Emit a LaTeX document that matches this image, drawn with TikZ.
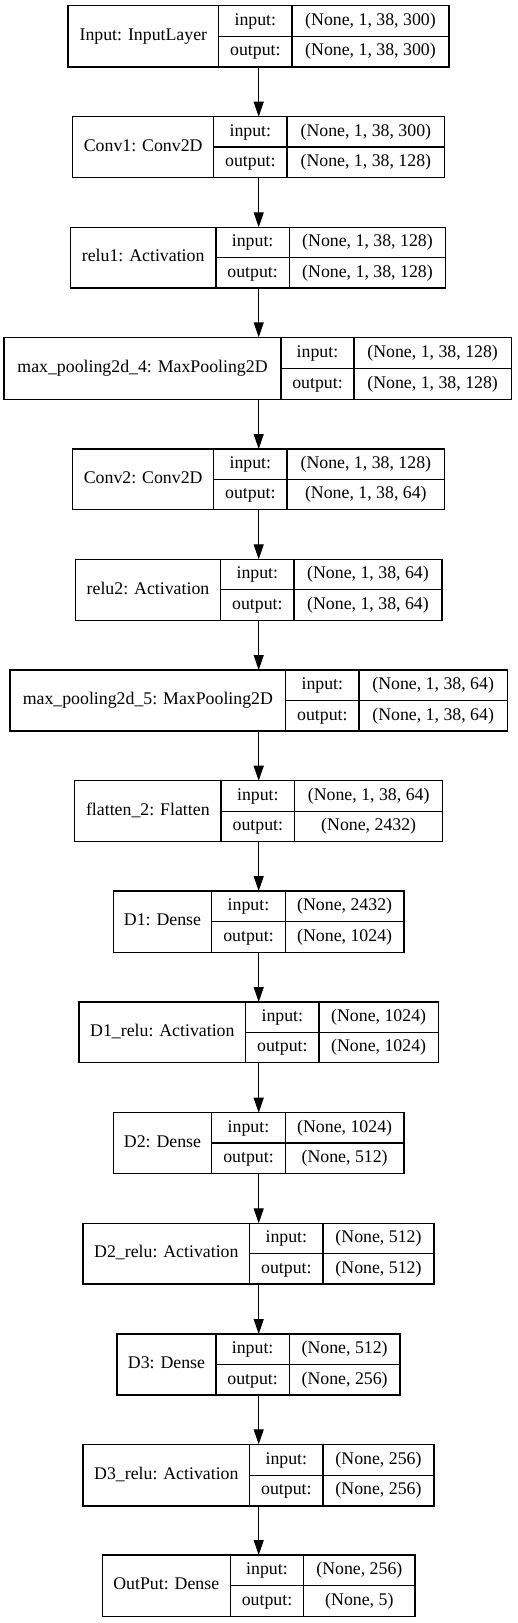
\documentclass[tikz,border=0pt]{standalone}
\usepackage{fontspec}
\setmainfont{Liberation Serif}
\usetikzlibrary{arrows.meta}
\tikzset{
  kbox/.style={draw=black, line width=1.2pt, inner sep=0pt, outer sep=0pt, fill=white},
  kline/.style={draw=black, line width=1.2pt},
  ktxt/.style={inner sep=0pt, font=\fontsize{17.8}{20}\selectfont, text height=12.6pt, text depth=4pt},
  karrow/.style={draw=black, line width=1.2pt, -{Triangle[length=15pt,width=10pt]}}
}
% name, x1, d1, d2, x2, ytop, ybot
\newcommand{\kgeom}[7]{%
  \def\kA{#2}\def\kB{#3}\def\kC{#4}\def\kD{#5}\def\kT{#6}\def\kU{#7}%
  \node[kbox, minimum width={(#5-#2)*1pt}, minimum height={(#7-#6)*1pt}] (#1) at ({(#2+#5)/2},{(#6+#7)/2}) {};
  \draw[kline] (#3,#6) -- (#3,#7);
  \draw[kline] (#4,#6) -- (#4,#7);
  \draw[kline] (#3,{(#6+#7)/2}) -- (#5,{(#6+#7)/2});
}
% name, label, in, out
\newcommand{\ktext}[4]{%
  \node[ktxt] (#1-l) at ({(\kA+\kB)/2},{(\kT+\kU)/2}) {#2};
  \node[ktxt] (#1-i) at ({(\kB+\kC)/2},{(3*\kT+\kU)/4}) {input:};
  \node[ktxt] (#1-o) at ({(\kB+\kC)/2},{(\kT+3*\kU)/4}) {output:};
  \node[ktxt] (#1-is) at ({(\kC+\kD)/2},{(3*\kT+\kU)/4}) {#3};
  \node[ktxt] (#1-os) at ({(\kC+\kD)/2},{(\kT+3*\kU)/4}) {#4};
}
\begin{document}
\begin{tikzpicture}[x=1pt,y=-1pt]
\useasboundingbox (0,0) rectangle (517,1623);
\fill[white] (0,0) rectangle (517,1623);
\coordinate (ax) at (258.7,0);

\kgeom{L1}{68}{218.7}{292}{449}{5.7}{67}
\ktext{L1}{Input: InputLayer}{(None, 1, 38, 300)}{(None, 1, 38, 300)}
\kgeom{L2}{72.7}{213.7}{287}{444.7}{116.7}{177.3}
\ktext{L2}{Conv1: Conv2D}{(None, 1, 38, 300)}{(None, 1, 38, 128)}
\kgeom{L3}{70.3}{216}{289.3}{445.7}{227.3}{288}
\ktext{L3}{relu1: Activation}{(None, 1, 38, 128)}{(None, 1, 38, 128)}
\kgeom{L4}{4}{281}{354}{511.3}{337.3}{399.3}
\ktext{L4}{max\_pooling2d\_4: MaxPooling2D}{(None, 1, 38, 128)}{(None, 1, 38, 128)}
\kgeom{L5}{72.7}{213.7}{287}{444.7}{449}{509.3}
\ktext{L5}{Conv2: Conv2D}{(None, 1, 38, 128)}{(None, 1, 38, 64)}
\kgeom{L6}{75.3}{220.7}{294}{442}{559.3}{620.3}
\ktext{L6}{relu2: Activation}{(None, 1, 38, 64)}{(None, 1, 38, 64)}
\kgeom{L7}{10}{285.7}{359}{507.3}{670}{731}
\ktext{L7}{max\_pooling2d\_5: MaxPooling2D}{(None, 1, 38, 64)}{(None, 1, 38, 64)}
\kgeom{L8}{74.7}{221}{294.7}{442.7}{780.7}{841.7}
\ktext{L8}{flatten\_2: Flatten}{(None, 1, 38, 64)}{(None, 2432)}
\kgeom{L9}{113.3}{211.7}{285.3}{404}{891}{952.3}
\ktext{L9}{D1: Dense}{(None, 2432)}{(None, 1024)}
\kgeom{L10}{79}{245.7}{319}{438.3}{1002}{1062.7}
\ktext{L10}{D1\_relu: Activation}{(None, 1024)}{(None, 1024)}
\kgeom{L11}{113.3}{211.7}{285.3}{404}{1112.7}{1173.3}
\ktext{L11}{D2: Dense}{(None, 1024)}{(None, 512)}
\kgeom{L12}{83}{249.7}{323}{434}{1223.3}{1284}
\ktext{L12}{D2\_relu: Activation}{(None, 512)}{(None, 512)}
\kgeom{L13}{117}{216}{289.3}{400}{1334}{1395}
\ktext{L13}{D3: Dense}{(None, 512)}{(None, 256)}
\kgeom{L14}{83}{249.7}{323}{434}{1444.3}{1506}
\ktext{L14}{D3\_relu: Activation}{(None, 256)}{(None, 256)}
\kgeom{L15}{102.3}{230.3}{303.7}{415}{1555}{1616.3}
\ktext{L15}{OutPut: Dense}{(None, 256)}{(None, 5)}

\foreach \a/\b in {L1/L2,L2/L3,L3/L4,L4/L5,L5/L6,L6/L7,L7/L8,L8/L9,L9/L10,L10/L11,L11/L12,L12/L13,L13/L14,L14/L15}
  \draw[karrow] (\a.south -| ax) -- (\b.north -| ax);
\end{tikzpicture}
\end{document}
